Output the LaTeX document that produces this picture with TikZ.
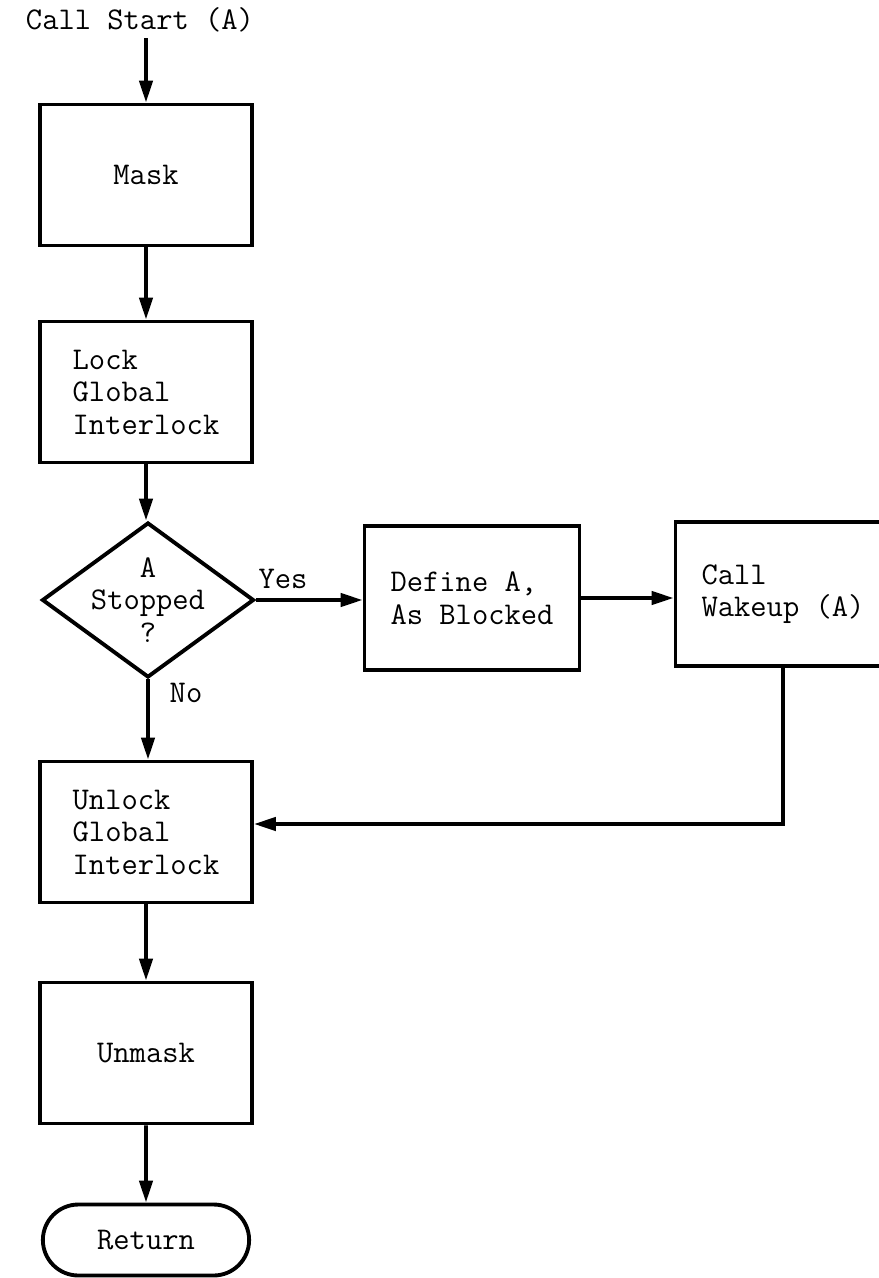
\documentclass[tikz,border=0pt]{standalone}
\usetikzlibrary{arrows.meta,shapes.geometric,shapes.misc}

\begin{document}
\begin{tikzpicture}[
    x=0.02cm,y=-0.02cm,
    every node/.style={font=\ttfamily\fontsize{18}{18.5}\selectfont},
    proc/.style={rectangle,draw,line width=2.2pt,minimum width=4.24cm,minimum height=2.82cm,align=left},
    sideproc/.style={proc,minimum width=4.3cm,minimum height=2.88cm},
    decision/.style={diamond,draw,line width=2.2pt,minimum width=4.24cm,minimum height=3.1cm,
                     inner sep=-0.3cm,align=center},
    terminal/.style={rounded rectangle,draw,line width=2.2pt,minimum width=4.36cm,minimum height=1.42cm},
    arrow/.style={-{Triangle[length=12.5pt,width=7.5pt]},line width=2.2pt}
]
\useasboundingbox (0,0) rectangle (879,1278);
\clip (0,0) rectangle (879,1278);

\node (start) at (140,20) {Call Start (A)};
\node[proc]     (mask)    at (146,175)  {Mask};
\node[proc]     (lock)    at (146,392)  {Lock\\Global\\Interlock};
\node[decision] (stopped) at (148,600)  {A\\Stopped\\?};
\node[sideproc] (define)  at (472,598)  {Define A,\\As Blocked};
\node[sideproc] (wakeup)  at (783,594)  {Call\\Wakeup (A)};
\node[proc]     (unlock)  at (146,832)  {Unlock\\Global\\Interlock};
\node[proc]     (unmask)  at (146,1053) {Unmask};
\node[terminal] (return)  at (146,1240) {Return};

\node (yes) at (283,579) {Yes};
\node (no)  at (186,693) {No};

\draw[arrow] (start.south -| mask) -- (mask);
\draw[arrow] (mask) -- (lock);
\draw[arrow] (lock.south) -- (lock.south |- stopped.north);
\draw[arrow] (stopped.east) -- (define.west |- stopped.east);
\draw[arrow] (define.east) -- (wakeup.west |- define.east);
\draw[arrow] (stopped.south) -- (stopped.south |- unlock.north);
\draw[arrow] (wakeup.south) |- ([yshift=0.16cm]unlock.east);
\draw[arrow] (unlock) -- (unmask);
\draw[arrow] (unmask) -- (return);
\end{tikzpicture}
\end{document}
